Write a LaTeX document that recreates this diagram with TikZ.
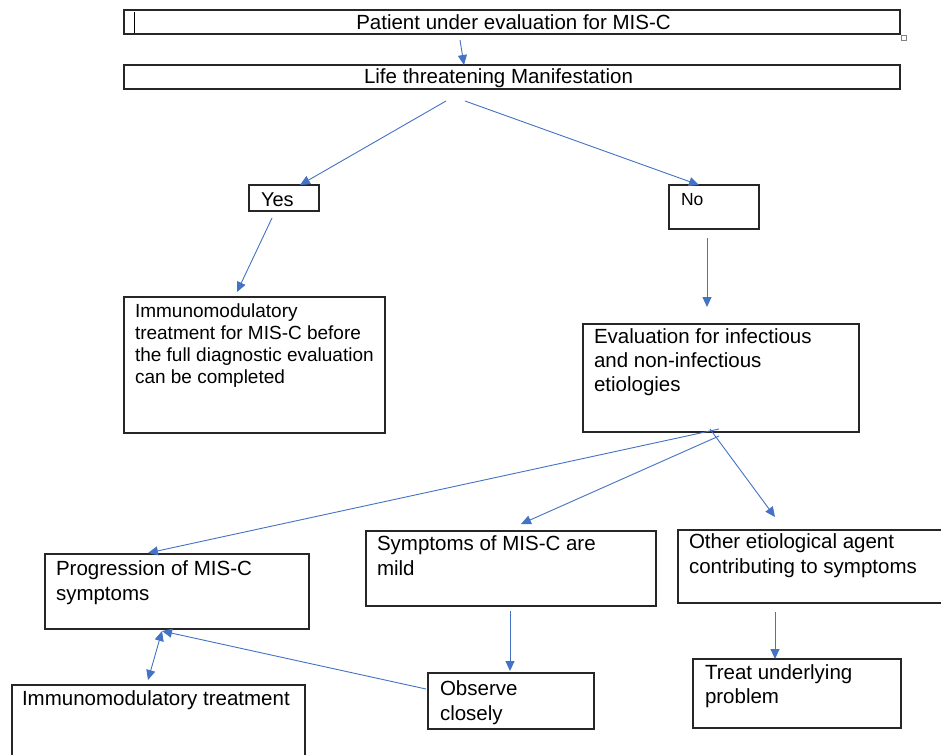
\documentclass[tikz,border=0pt]{standalone}
\usepackage{fontspec}
\setmainfont{Liberation Sans}
\usetikzlibrary{arrows.meta,calc}
\definecolor{arrowblue}{HTML}{4472C4}
\definecolor{boxline}{HTML}{262626}
\begin{document}
\begin{tikzpicture}[x=1pt,y=-1pt,
  box/.style={draw=boxline, line width=1.3pt, inner sep=0pt, outer sep=0pt, anchor=north west, rectangle},
  lbl/.style={inner sep=0pt, outer sep=0pt, anchor=north west, align=left, text=black},
  onel/.style={inner sep=0pt, outer sep=0pt, text=black},
  fA/.style={font=\fontsize{20.5pt}{25pt}\selectfont},
  fB/.style={font=\fontsize{20.5pt}{24pt}\selectfont},
  fS/.style={font=\fontsize{19pt}{22pt}\selectfont},
  arr/.style={draw=arrowblue, line width=0.9pt, -{Triangle[length=10pt,width=9pt]}},
  darr/.style={draw=arrowblue, line width=0.9pt, {Triangle[length=10pt,width=9pt]}-{Triangle[length=10pt,width=9pt]}}
]
\useasboundingbox (0,0) rectangle (941,754);
\fill[white] (0,0) rectangle (941,754);

% boxes
\node[box, minimum width=776pt, minimum height=24pt] (top) at (124,10) {};
\node[box, minimum width=776pt, minimum height=24pt] (life) at (124,65) {};
\node[box, minimum width=70pt, minimum height=26pt] (yes) at (249,185) {};
\node[box, minimum width=90pt, minimum height=44pt] (no) at (669,185) {};
\node[box, minimum width=261pt, minimum height=136pt] (immA) at (124,297) {};
\node[box, minimum width=276pt, minimum height=108pt] (eval) at (583,324) {};
\node[box, minimum width=264pt, minimum height=75pt] (prog) at (45,554) {};
\node[box, minimum width=290pt, minimum height=75pt] (mild) at (366,531) {};
\node[box, minimum width=280pt, minimum height=73pt] (other) at (678,530) {};
\node[box, minimum width=166pt, minimum height=56pt] (observe) at (428,673) {};
\node[box, minimum width=208pt, minimum height=69pt] (treat) at (693,659) {};
\node[box, minimum width=293pt, minimum height=80pt] (immB) at (12,685) {};

% small artefacts shown in the picture
\draw[line width=1pt, black] (134,12) -- (134,33);
\draw[gray, line width=0.7pt] (901.5,35.5) rectangle (906.5,40.5);

% texts
\node[onel, fA, anchor=base] (topT) at ($(top.north)+(1.5,20)$) {Patient under evaluation for MIS-C};
\node[onel, fA, anchor=base] (lifeT) at ($(life.north)+(-13.5,19)$) {Life threatening Manifestation};
\node[onel, font=\fontsize{20pt}{24pt}\selectfont, anchor=base west] (yesT) at ($(yes.north west)+(12,21)$) {Yes};
\node[onel, font=\fontsize{17.5pt}{21pt}\selectfont, anchor=base west] (noT) at ($(no.north west)+(12,20)$) {No};
\node[lbl, fS] (immAT) at ($(immA.north west)+(11,5.4)$) {\strut Immunomodulatory\\treatment for MIS-C before\\the full diagnostic evaluation\\can be completed};
\node[lbl, fB] (evalT) at ($(eval.north west)+(11,2.7)$) {\strut Evaluation for infectious\\and non-infectious\\etiologies};
\node[lbl, fA] (progT) at ($(prog.north west)+(11,4.1)$) {\strut Progression of MIS-C\\symptoms};
\node[lbl, fA] (mildT) at ($(mild.north west)+(11,1.8)$) {\strut Symptoms of MIS-C are\\mild};
\node[lbl, fA] (otherT) at ($(other.north west)+(11,1.3)$) {\strut Other etiological agent\\contributing to symptoms};
\node[lbl, fA] (observeT) at ($(observe.north west)+(12,4.5)$) {\strut Observe\\closely};
\node[lbl, fB] (treatT) at ($(treat.north west)+(12,3.2)$) {\strut Treat underlying\\problem};
\node[lbl, fA] (immBT) at ($(immB.north west)+(10,3)$) {\strut Immunomodulatory treatment};

% connectors
\draw[arr] ($(top.south)+(-52,6)$) -- ($(life.north)+(-48,0)$);
\draw[arr] ($(life.south)+(-66,12)$) -- ($(yes.north)+(16,0)$);
\draw[arr] ($(life.south)+(-47,12)$) -- ($(no.north)+(-15,0)$);
\draw[arr] ($(yes.south)+(-12,7)$) -- ($(immA.north)+(-17.5,-5)$);
\draw[arr] ($(no.south)+(-7,9)$) -- ($(eval.north)+(-14,-17)$);
\draw[arr] ($(eval.south)+(-2,-3)$) -- ($(prog.north)+(-29,-1)$);
\draw[arr] ($(eval.south)+(-2,4)$) -- ($(mild.north)+(10,-7)$);
\draw[arr] ($(eval.south)+(-11,-3)$) -- ($(other.north)+(-43,-13)$);
\draw[arr] ($(mild.south)+(-1,5)$) -- ($(observe.north)+(-1,-2)$);
\draw[arr] ($(other.south)+(-43,9)$) -- ($(treat.north)+(-22,0)$);
\draw[arr] ($(observe.north west)+(-2,16)$) -- ($(prog.south)+(-15,2)$);
\draw[darr] ($(prog.south)+(-15,2)$) -- ($(immB.north west)+(136,-5)$);
\end{tikzpicture}
\end{document}
